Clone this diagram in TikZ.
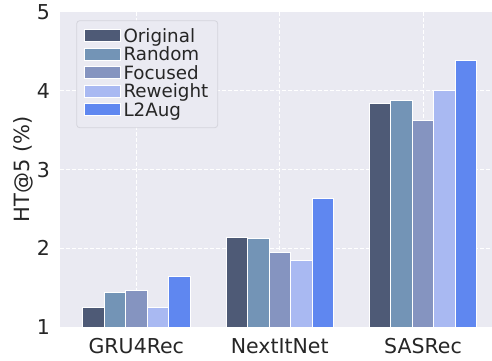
\documentclass[tikz,border=0pt]{standalone}
\usepackage{fontspec}
\setmainfont{DejaVu Sans}
\definecolor{axbg}{HTML}{EAEAF2}
\definecolor{txt}{HTML}{262626}
\definecolor{legedge}{HTML}{D4D4DC}
\definecolor{cOrig}{HTML}{4E5A76}
\definecolor{cRand}{HTML}{7394B6}
\definecolor{cFoc}{HTML}{8594C0}
\definecolor{cRew}{HTML}{A9B9F2}
\definecolor{cLtwo}{HTML}{5F87F0}
\begin{document}
\begin{tikzpicture}[x=1pt,y=-1pt,
  gridline/.style={white, line width=1pt, dash pattern=on 4pt off 2pt},
  barbox/.style={draw=white, line width=0.8pt},
  ticklab/.style={text=txt, font=\fontsize{20.5}{24}\selectfont, inner sep=0pt},
  leglab/.style={text=txt, font=\fontsize{18.3}{22}\selectfont, inner sep=0pt, anchor=base west},
  axlab/.style={text=txt, font=\fontsize{21}{25}\selectfont, inner sep=0pt}]
\useasboundingbox (0,0) rectangle (492,360);
\fill[white] (0,0) rectangle (492,360);
\fill[axbg] (60,12) rectangle (492,327);
% grid
\foreach \v in {2,3,4}
  \draw[gridline] (60,{327-(\v-1)*78.75}) -- (492,{327-(\v-1)*78.75});
\foreach \c in {136.3,279.7,423}
  \draw[gridline] (\c,12) -- (\c,327);
% bars
\foreach \c/\a/\b/\d/\e/\f in {136.3/1.25/1.44/1.47/1.25/1.64, 279.7/2.14/2.12/1.95/1.85/2.63, 423/3.84/3.88/3.62/4.01/4.39}{
  \path[barbox, fill=cOrig] ({\c-53.75},327) rectangle ({\c-32.25},{327-(\a-1)*78.75});
  \path[barbox, fill=cRand] ({\c-32.25},327) rectangle ({\c-10.75},{327-(\b-1)*78.75});
  \path[barbox, fill=cFoc]  ({\c-10.75},327) rectangle ({\c+10.75},{327-(\d-1)*78.75});
  \path[barbox, fill=cRew]  ({\c+10.75},327) rectangle ({\c+32.25},{327-(\e-1)*78.75});
  \path[barbox, fill=cLtwo] ({\c+32.25},327) rectangle ({\c+53.75},{327-(\f-1)*78.75});
}
% legend
\draw[draw=legedge, fill=axbg, line width=0.8pt, rounded corners=3pt] (76.7,20.7) rectangle (217.7,127.7);
\foreach \col/\cy/\lab/\nm in {cOrig/35.7/Original/lOrig, cRand/54.2/Random/lRand, cFoc/72.7/Focused/lFoc, cRew/91.2/Reweight/lRew, cLtwo/109.7/L2Aug/lLtwo}{
  \path[barbox, fill=\col] (84,{\cy-6}) rectangle (120.7,{\cy+6});
  \node[leglab] (\nm) at (123.3,{\cy+6.6}) {\lab};
}
% y ticks
\node[ticklab, anchor=base east] (y1) at (50,{327+7.7}) {1};
\node[ticklab, anchor=base east] (y2) at (50,{248.25+7.7}) {2};
\node[ticklab, anchor=base east] (y3) at (50,{169.5+7.7}) {3};
\node[ticklab, anchor=base east] (y4) at (50,{90.75+7.7}) {4};
\node[ticklab, anchor=base east] (y5) at (50,{12+7.7}) {5};
% x ticks
\node[ticklab, anchor=base] (xa) at (136.3,353.3) {GRU4Rec};
\node[ticklab, anchor=base] (xb) at (279.7,353.3) {NextItNet};
\node[ticklab, anchor=base] (xc) at (423,353.3) {SASRec};
% y label
\node[axlab, rotate=90] (ylab) at (23.3,169.5) {HT@5 (\%)};
\end{tikzpicture}
\end{document}
